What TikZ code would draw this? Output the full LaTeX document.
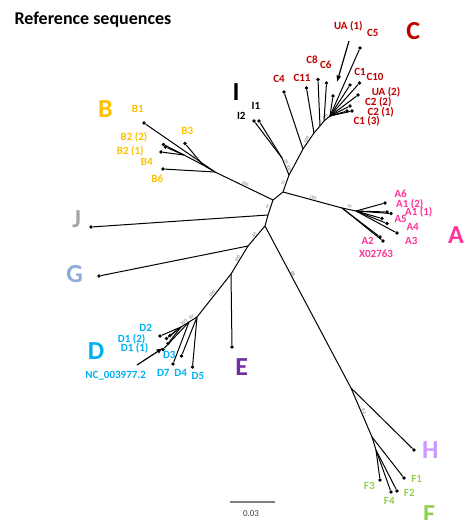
\documentclass[tikz,border=0pt]{standalone}
\usepackage{fontspec}
\setmainfont{Carlito}
\usetikzlibrary{calc, positioning}

\definecolor{cladeA}{HTML}{FF3399}
\definecolor{cladeB}{HTML}{FFC000}
\definecolor{cladeC}{HTML}{C00000}
\definecolor{cladeD}{HTML}{00B0F0}
\definecolor{cladeE}{HTML}{7030A0}
\definecolor{cladeF}{HTML}{92D050}
\definecolor{cladeG}{HTML}{8EA9DB}
\definecolor{cladeH}{HTML}{CC99FF}
\definecolor{cladeJ}{HTML}{A6A6A6}

\begin{document}
\begin{tikzpicture}[>=latex, x=1pt, y=-1pt,
  br/.style={line width=1pt},
  tip/.style={circle, fill, inner sep=0pt, minimum size=3.8pt},
  lab/.style={font=\fontsize{11}{12}\selectfont\bfseries, inner sep=0pt},
  big/.style={font=\fontsize{26}{28}\selectfont\bfseries, inner sep=0pt},
  boot/.style={font=\fontsize{4.5}{5}\selectfont, text=black!60, inner sep=0.6pt, sloped, above}]
  \useasboundingbox (0,0) rectangle (465,520);
  \node [anchor=base west, font=\fontsize{18}{20}\selectfont\bfseries] (title) at (11,24) {Reference sequences};

  % inner nodes
  \coordinate (rC) at (289,175);
  \coordinate (rA) at (283,192);
  \coordinate (rB) at (273,200);
  \coordinate (rJ) at (268,215);
  \coordinate (rG) at (265,226);
  \coordinate (gJ) at (248,246);
  \coordinate (eJ) at (231,274);
  \coordinate (dJ) at (197,317);
  \coordinate (dJb) at (189,322);
  \coordinate (dJc) at (181,327);
  \coordinate (fH) at (351,388);
  \coordinate (fJ) at (372,437);
  \coordinate (fJb) at (376,450);
  \coordinate (aJ) at (342,208);
  \coordinate (aJb) at (356,211);
  \coordinate (bJ) at (215,172);
  \coordinate (bJb) at (203,165);
  \coordinate (bJc) at (184,155);
  \coordinate (iJ) at (282,158);
  \coordinate (c1) at (294,166);
  \coordinate (c2) at (303,149);
  \coordinate (c3) at (314,133);
  \coordinate (c4) at (320,126);
  \coordinate (c5) at (324,121);
  \coordinate (c6) at (330,116);

  % tips
  \node [tip] (tI1) at (259,121) {};
  \node [tip] (tI2) at (254,121) {};
  \node [tip] (tC4) at (284,92) {};
  \node [tip] (tC11) at (306.5,88) {};
  \node [tip] (tC8) at (318,79.5) {};
  \node [tip] (tC6) at (326.5,83) {};
  \node [tip] (tUA1) at (333,96) {};
  \node [tip] (tC5) at (360,48) {};
  \node [tip] (tC1) at (350,85) {};
  \node [tip] (tC10) at (359.5,83) {};
  \node [tip] (tUA2) at (358,95) {};
  \node [tip] (tC22) at (350,106) {};
  \node [tip] (tC21) at (352,111) {};
  \node [tip] (tC13) at (347,111) {};
  \node [tip] (tA6) at (385,203) {};
  \node [tip] (tA12) at (387,212) {};
  \node [tip] (tA11) at (391,213.5) {};
  \node [tip] (tA5) at (382,218.5) {};
  \node [tip] (tA4) at (387,223.5) {};
  \node [tip] (tA3) at (397,233) {};
  \node [tip] (tA2) at (380,237) {};
  \node [tip] (tX) at (383,241) {};
  \node [tip] (tB1) at (144,123) {};
  \node [tip] (tB3) at (185,143.5) {};
  \node [tip] (tB22) at (163.5,144.5) {};
  \node [tip] (tB21) at (165.5,147) {};
  \node [tip] (tB4) at (161,152) {};
  \node [tip] (tB6) at (163,169) {};
  \node [tip] (tJ) at (91,227) {};
  \node [tip] (tG) at (99,276) {};
  \node [tip] (tE) at (232,347) {};
  \node [tip] (tD2) at (160,336) {};
  \node [tip] (tD12) at (166.5,338.5) {};
  \node [tip] (tD1x) at (170,335.5) {};
  \node [tip] (tD11) at (168,343.5) {};
  \node [tip] (tD3) at (163,349.5) {};
  \node [tip] (tD7) at (173,364) {};
  \node [tip] (tD4) at (181.5,356) {};
  \node [tip] (tD5) at (192.5,367) {};
  \node [tip] (tH) at (414,450) {};
  \node [tip] (tF1) at (404,478) {};
  \node [tip] (tF2) at (397,491) {};
  \node [tip] (tF4) at (391,492) {};
  \node [tip] (tF3) at (380,480) {};

  % backbone
  \draw [br] (rC) -- node [boot] {77} (rA);
  \draw [br] (rA) -- (rB);
  \draw [br] (rB) -- node [boot] {77} (rJ);
  \draw [br] (rJ) -- (rG);
  \draw [br] (rG) -- node [boot] {85} (gJ);
  \draw [br] (gJ) -- node [boot] {100} (eJ);
  \draw [br] (eJ) -- node [boot] {100} (dJ);
  \draw [br] (rG) -- node [boot, pos=0.3] {88} (fH);
  \draw [br] (rA) -- node [boot] {100} (aJ);
  \draw [br] (rB) -- node [boot] {100} (bJ);
  \draw [br] (rC) -- node [boot] {99 100} (iJ);
  \draw [br] (rC) -- (c1) -- (c2) -- node [boot] {100} (c3) -- (c4) -- (c5) -- node [boot] {98} (c6);

  % clade I
  \draw [br] (iJ) -- (tI1);
  \draw [br] (iJ) -- (tI2);
  % clade C
  \draw [br] (c2) -- (tC4);
  \draw [br] (c3) -- (tC11);
  \draw [br] (c4) -- (tC8);
  \draw [br] (c5) -- (tC6);
  \foreach \t in {tUA1, tC5, tC1, tC10, tUA2, tC22, tC21, tC13}
    \draw [br] (c6) -- (\t);
  % clade A
  \draw [br] (aJ) -- (tA2);
  \draw [br] (aJ) -- (tX);
  \draw [br] (aJ) -- node [boot] {97} (aJb);
  \foreach \t in {tA6, tA12, tA11, tA5, tA4, tA3}
    \draw [br] (aJb) -- (\t);
  % clade B
  \draw [br] (bJ) -- (tB6);
  \draw [br] (bJ) -- (tB1);
  \draw [br] (bJ) -- (bJb);
  \draw [br] (bJb) -- (tB3);
  \draw [br] (bJb) -- node [boot] {100} (bJc);
  \foreach \t in {tB22, tB21, tB4}
    \draw [br] (bJc) -- (\t);
  % J, G, E
  \draw [br] (rJ) -- (tJ);
  \draw [br] (gJ) -- (tG);
  \draw [br] (eJ) -- (tE);
  % clade D
  \draw [br] (dJ) -- (tD5);
  \draw [br] (dJ) -- (tD4);
  \draw [br] (dJ) -- node [boot] {87} (dJb);
  \draw [br] (dJb) -- (tD7);
  \draw [br] (dJb) -- (tD3);
  \draw [br] (dJb) -- node [boot] {100} (dJc);
  \foreach \t in {tD2, tD12, tD1x, tD11}
    \draw [br] (dJc) -- (\t);
  % clades H, F
  \draw [br] (fH) -- (tH);
  \draw [br] (fH) -- node [boot] {83} (fJ);
  \draw [br] (fJ) -- (tF1);
  \draw [br] (fJ) -- (fJb);
  \foreach \t in {tF2, tF4, tF3}
    \draw [br] (fJb) -- (\t);

  % tip labels
  \begin{scope}[every node/.style={lab, text=cladeC}]
    \node (lUA1) at (348.3,26) {UA (1)};
    \node (lC5) at (372.7,33) {C5};
    \node (lC8) at (312,59.3) {C8};
    \node (lC6) at (325.7,65) {C6};
    \node (lC4) at (279,79.3) {C4};
    \node (lC11) at (302,78.3) {C11};
    \node (lC1) at (360,71.7) {C1};
    \node (lC10) at (375,76.7) {C10};
    \node (lUA2) at (386,92.3) {UA (2)};
    \node (lC22) at (378.3,102) {C2 (2)};
    \node (lC21) at (380.7,112) {C2 (1)};
    \node (lC13) at (366.7,121) {C1 (3)};
  \end{scope}
  \begin{scope}[every node/.style={lab, text=cladeB}]
    \node (lB1) at (137.7,109.3) {B1};
    \node (lB3) at (187.3,131.3) {B3};
    \node (lB22) at (134,137.7) {B2 (2)};
    \node (lB21) at (130.3,151.3) {B2 (1)};
    \node (lB4) at (146.7,162.3) {B4};
    \node (lB6) at (157.3,178.3) {B6};
  \end{scope}
  \begin{scope}[every node/.style={lab, text=cladeA}]
    \node (lA6) at (400.7,193.3) {A6};
    \node (lA12) at (409.7,204) {A1 (2)};
    \node (lA11) at (418.7,212.7) {A1 (1)};
    \node (lA5) at (400.7,219.3) {A5};
    \node (lA4) at (412.7,227.3) {A4};
    \node (lA3) at (411.3,241) {A3};
    \node (lA2) at (367.7,240.7) {A2};
    \node (lX) at (376,254) {X02763};
  \end{scope}
  \begin{scope}[every node/.style={lab, text=cladeD}]
    \node (lD2) at (145.7,328.3) {D2};
    \node (lD12) at (131.7,339) {D1 (2)};
    \node (lD11) at (134.7,348.7) {D1 (1)};
    \node (lD3) at (169.3,355) {D3};
    \node (lD7) at (163.3,373) {D7};
    \node (lD4) at (180.7,373) {D4};
    \node (lD5) at (198,376.3) {D5};
    \node (lNC) at (115.7,375.3) {NC\_003977.2};
  \end{scope}
  \begin{scope}[every node/.style={lab, text=cladeF}]
    \node (lF1) at (416.7,479) {F1};
    \node (lF2) at (409.3,492.7) {F2};
    \node (lF4) at (389.3,500.7) {F4};
    \node (lF3) at (369.3,486) {F3};
  \end{scope}
  \node [lab] (lI1) at (256,106) {I1};
  \node [lab] (lI2) at (241.3,116.3) {I2};

  % arrows to hidden tips
  \coordinate (ua1a) at (349,41);
  \coordinate (ua1b) at (337,82);
  \draw [->, line width=1.2pt] (ua1a) -- (ua1b);
  \coordinate (nca) at (137,365);
  \coordinate (ncb) at (163,348);
  \draw [->, line width=1.2pt] (nca) -- (ncb);

  % clade letters
  \node [big, text=cladeC] (bigC) at (413.3,31) {C};
  \node [big, text=cladeB] (bigB) at (105.3,109.3) {B};
  \node [big] (bigI) at (236,91.7) {I};
  \node [big, text=cladeA] (bigA) at (456,235) {A};
  \node [big, text=cladeJ] (bigJ) at (76.7,219.3) {J};
  \node [big, text=cladeG] (bigG) at (74.7,273.7) {G};
  \node [big, text=cladeD] (bigD) at (96,350.7) {D};
  \node [big, text=cladeE] (bigE) at (241.7,367) {E};
  \node [big, text=cladeH] (bigH) at (430.3,449.7) {H};
  \node [big, text=cladeF] (bigF) at (429,514) {F};

  % scale bar
  \coordinate (sb1) at (230,502);
  \coordinate (sb2) at (275,502);
  \draw [gray, line width=1.3pt] (sb1) -- (sb2);
  \node [font=\fontsize{9}{10}\selectfont, text=darkgray] (sbl) at (251,514) {0.03};
\end{tikzpicture}
\end{document}
